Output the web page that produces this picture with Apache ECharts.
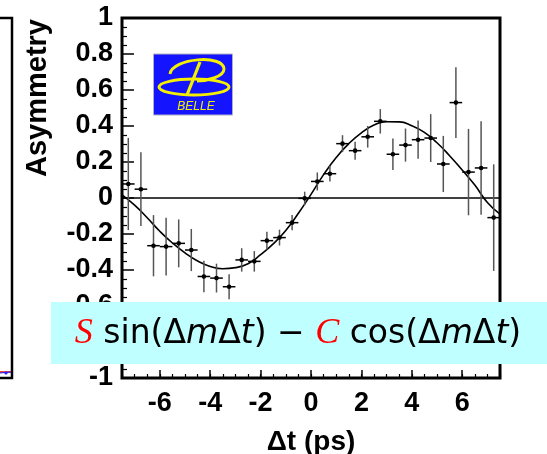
<!DOCTYPE html>
<html>
<head>
<meta charset="utf-8">
<script src="https://cdn.jsdelivr.net/npm/echarts@6/dist/echarts.min.js"></script>
<style>
  html, body { margin: 0; padding: 0; background: #fff; }
  #chart { width: 547px; height: 454px; }
</style>
</head>
<body>
<div id="chart"></div>
<script>
// bin centres (ps) and measured asymmetry with its error
const binCenters = [-7.25, -6.75, -6.25, -5.75, -5.25, -4.75, -4.25, -3.75, -3.25, -2.75,
                    -2.25, -1.75, -1.25, -0.75, -0.25, 0.25, 0.75, 1.25, 1.75, 2.25,
                    2.75, 3.25, 3.75, 4.25, 4.75, 5.25, 5.75, 6.25, 6.75, 7.25];
const asymValues = [0.078, 0.049, -0.265, -0.270, -0.252, -0.289, -0.436, -0.445, -0.493, -0.344,
                    -0.352, -0.237, -0.220, -0.137, -0.002, 0.092, 0.135, 0.302, 0.263, 0.340,
                    0.426, 0.243, 0.294, 0.324, 0.333, 0.189, 0.530, 0.144, 0.167, -0.109];
const asymErrors = [0.256, 0.205, 0.170, 0.160, 0.133, 0.117, 0.088, 0.080, 0.070, 0.065,
                    0.057, 0.050, 0.044, 0.042, 0.037, 0.050, 0.044, 0.047, 0.050, 0.060,
                    0.068, 0.087, 0.092, 0.106, 0.133, 0.156, 0.196, 0.240, 0.260, 0.296];

// fitted curve
const fitTimes = [-7.5, -7.0, -6.5, -6.0, -5.5, -5.0, -4.5, -4.0, -3.5, -3.0, -2.5, -2.0, -1.5, -1.0, -0.5,
                  0.0, 0.5, 1.0, 1.5, 2.0, 2.5, 3.0, 3.5, 4.0, 4.5, 5.0, 5.5, 6.0, 6.5, 7.0, 7.5];
const fitValues = [0.017, -0.040, -0.110, -0.185, -0.250, -0.305, -0.350, -0.380, -0.393, -0.387, -0.365,
                   -0.315, -0.255, -0.180, -0.085, 0.020, 0.130, 0.225, 0.302, 0.362, 0.405, 0.424,
                   0.423, 0.402, 0.365, 0.307, 0.235, 0.155, 0.072, -0.025, -0.090];

const xTicks = [-6, -4, -2, 0, 2, 4, 6];
const xRange = [-7.5, 7.5];
const yRange = [-1, 1];

const chart = echarts.init(document.getElementById('chart'));

const labelFont = { fontFamily: '"Liberation Sans", Arial, sans-serif', fontWeight: 'bold', fontSize: 27, color: '#000' };
const yellow = '#f4f000';

// one marker: vertical error bar, horizontal bin width, dot
function renderPoint(params, api) {
  const t = api.value(0), v = api.value(1), e = api.value(2);
  const c = api.coord([t, v]);
  const top = api.coord([t, v + e]);
  const bot = api.coord([t, v - e]);
  const l = api.coord([t - 0.25, v]);
  const r = api.coord([t + 0.25, v]);
  return {
    type: 'group',
    children: [
      { type: 'line', shape: { x1: c[0], y1: top[1], x2: c[0], y2: bot[1] }, style: { stroke: '#555', lineWidth: 1.5 } },
      { type: 'line', shape: { x1: l[0], y1: c[1], x2: r[0], y2: c[1] }, style: { stroke: '#000', lineWidth: 1.5 } },
      { type: 'circle', shape: { cx: c[0], cy: c[1], r: 2.3 }, style: { fill: '#000' } }
    ]
  };
}

const option = {
  animation: false,
  grid: {
    left: 122, right: 47, top: 18, bottom: 76, outerBoundsMode: 'none', containLabel: false,
    show: true, borderColor: '#000', borderWidth: 3, backgroundColor: 'transparent'
  },
  xAxis: [
    {
      type: 'value', min: xRange[0], max: xRange[1],
      axisLine: { show: false, onZero: false },
      axisTick: { show: true, inside: true, length: 8, customValues: xTicks, lineStyle: { color: '#000', width: 1.5 } },
      axisLabel: Object.assign({ customValues: xTicks, margin: 12 }, labelFont),
      splitLine: { show: false },
      name: 'Δt (ps)', nameLocation: 'middle', nameGap: 50,
      nameTextStyle: { fontFamily: '"Liberation Sans", Arial, sans-serif', fontWeight: 'bold', fontSize: 28, color: '#000' }
    },
    {
      type: 'value', min: xRange[0], max: xRange[1], interval: 0.5, position: 'bottom',
      axisLine: { show: false, onZero: false },
      axisTick: { show: true, inside: true, length: 4, lineStyle: { color: '#000', width: 1.2 } },
      axisLabel: { show: false },
      splitLine: { show: false }
    }
  ],
  yAxis: {
    type: 'value', min: yRange[0], max: yRange[1], interval: 0.2,
    axisLine: { show: false, onZero: false },
    axisTick: { show: true, inside: true, length: 12, lineStyle: { color: '#000', width: 1.5 } },
    minorTick: { show: true, splitNumber: 4, length: 5, lineStyle: { color: '#000', width: 1.2 } },
    axisLabel: Object.assign({
      margin: 9,
      showMinLabel: true,
      showMaxLabel: true,
      hideOverlap: false,
      formatter: v => String(+v.toFixed(1))
    }, labelFont),
    splitLine: { show: false },
    minorSplitLine: { show: false }
  },
  series: [
    {
      type: 'line', data: [[xRange[0], 0], [xRange[1], 0]],
      showSymbol: false, lineStyle: { color: '#000', width: 1.3 }, silent: true, z: 2
    },
    {
      type: 'line', data: fitTimes.map((t, i) => [t, fitValues[i]]),
      smooth: true, showSymbol: false, lineStyle: { color: '#000', width: 1.6 }, z: 3
    },
    {
      type: 'custom', renderItem: renderPoint, clip: true, z: 4,
      data: binCenters.map((t, i) => [t, asymValues[i], asymErrors[i]])
    }
  ],
  graphic: [
    // edge of the neighbouring panel
    { type: 'polyline', shape: { points: [[0, 18], [12, 18], [12, 378], [0, 378]] }, style: { stroke: '#000', lineWidth: 2.5, fill: null } },
    { type: 'line', shape: { x1: 0, y1: 372, x2: 11, y2: 372 }, style: { stroke: '#e00', lineWidth: 1.5 } },
    { type: 'line', shape: { x1: 0, y1: 373, x2: 11, y2: 372 }, style: { stroke: '#22f', lineWidth: 1 } },
    { type: 'circle', shape: { cx: 6, cy: 373, r: 1.6 }, style: { fill: '#22f' } },

    // y title
    {
      type: 'text', x: 38, y: 98, rotation: Math.PI / 2,
      style: { text: 'Asymmetry', font: 'bold 29px "Liberation Sans", Arial, sans-serif', fill: '#000', align: 'center', verticalAlign: 'middle' }
    },

    // Belle logo
    { type: 'rect', shape: { x: 153.5, y: 54, width: 79, height: 61 }, style: { fill: '#1414ff', stroke: '#b0b0c0', lineWidth: 1 }, z: 10 },
    { type: 'ellipse', shape: { cx: 194, cy: 87, rx: 35, ry: 8 }, style: { fill: null, stroke: yellow, lineWidth: 3 }, z: 11 },
    { type: 'bezierCurve', shape: { x1: 170, y1: 74, cpx1: 172, cpy1: 58, cpx2: 224, cpy2: 54, x2: 224, y2: 69 }, style: { fill: null, stroke: yellow, lineWidth: 3 }, z: 11 },
    { type: 'bezierCurve', shape: { x1: 224, y1: 69, cpx1: 224, cpy1: 77, cpx2: 206, cpy2: 81, x2: 197, y2: 81 }, style: { fill: null, stroke: yellow, lineWidth: 3 }, z: 11 },
    { type: 'line', shape: { x1: 200, y1: 62, x2: 187, y2: 95 }, style: { stroke: yellow, lineWidth: 3.2 }, z: 11 },
    {
      type: 'text', x: 196, y: 107, z: 11,
      style: { text: 'BELLE', font: 'italic 12px "Liberation Sans", Arial, sans-serif', fill: yellow, align: 'center', verticalAlign: 'middle' }
    },

    // formula box
    { type: 'rect', shape: { x: 51, y: 302, width: 500, height: 62 }, style: { fill: '#c0ffff' }, z: 100 },
    {
      type: 'text', x: 298, y: 334, z: 101,
      style: {
        text: '{r|S} sin(Δ{i|m}Δ{i|t}) − {r|C} cos(Δ{i|m}Δ{i|t})',
        font: '33px "DejaVu Sans", sans-serif', fill: '#000',
        align: 'center', verticalAlign: 'middle',
        rich: {
          r: { fill: '#ff0000', font: 'italic 36px "Liberation Serif", serif' },
          i: { fill: '#000', font: 'oblique 33px "DejaVu Sans", sans-serif' }
        }
      }
    }
  ]
};

chart.setOption(option);
</script>
</body>
</html>
